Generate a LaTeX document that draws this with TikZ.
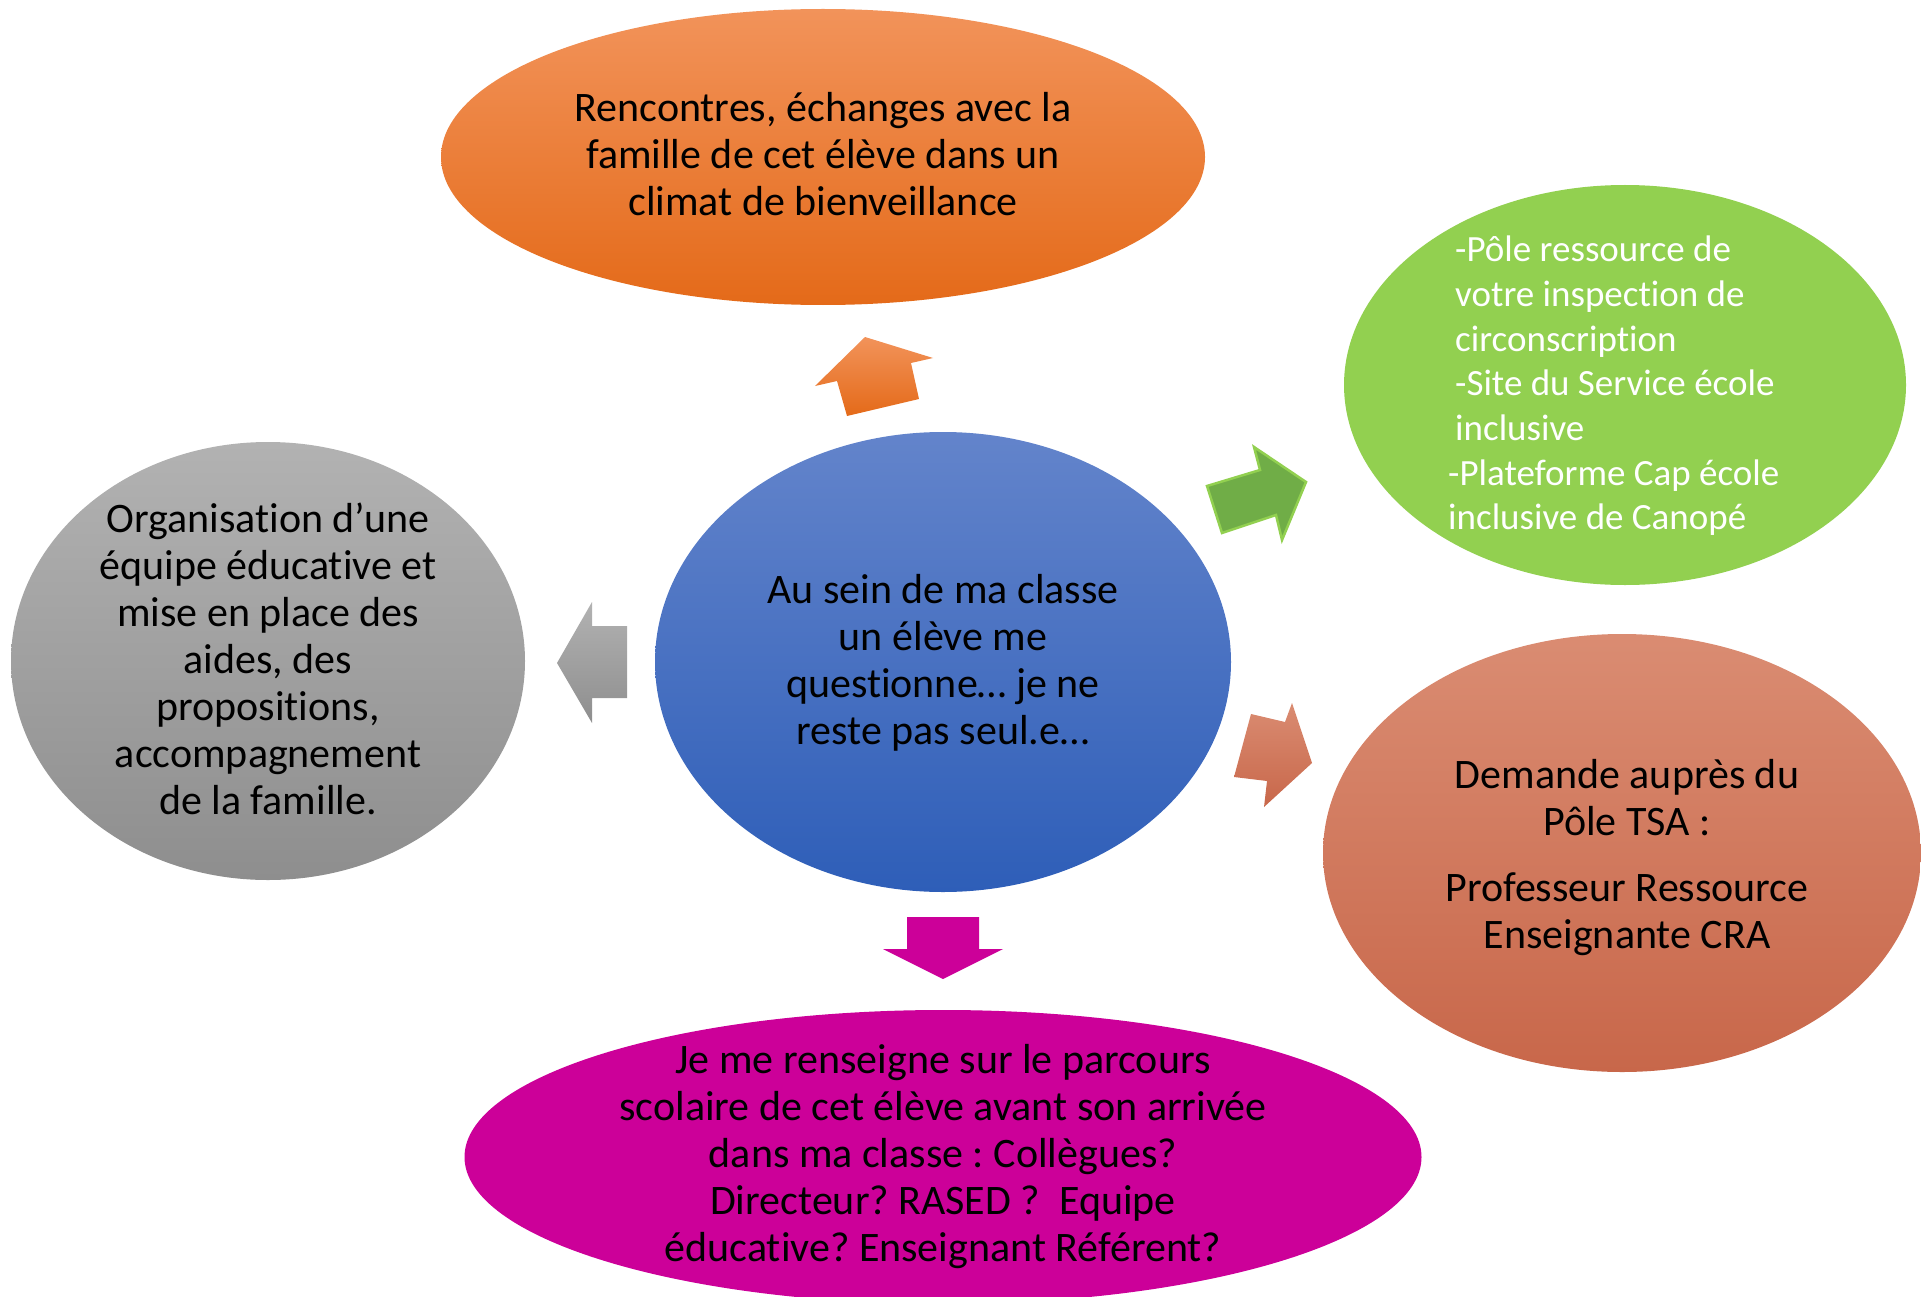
\documentclass[tikz,border=0pt]{standalone}
\usepackage{fontspec}
\setmainfont{Carlito}[Ligatures=NoCommon]
\usetikzlibrary{shapes.geometric}
\definecolor{orT}{HTML}{F2935A}
\definecolor{orB}{HTML}{E46A19}
\definecolor{blT}{HTML}{6384CB}
\definecolor{blB}{HTML}{2E5EB8}
\definecolor{grT}{HTML}{B2B2B2}
\definecolor{grB}{HTML}{8E8E8E}
\definecolor{gnF}{HTML}{92D050}
\definecolor{gnA}{HTML}{70AD47}
\definecolor{saT}{HTML}{DA8C72}
\definecolor{saB}{HTML}{C8674A}
\definecolor{mgF}{HTML}{CC0099}
\frenchspacing
\begin{document}
\begin{tikzpicture}[x=1pt,y=-1pt,
  bubble/.style={ellipse, draw=none, inner sep=0pt},
  txt/.style={font=\fontsize{42}{47}\selectfont, align=center, inner sep=0pt, text=black},
  gtxt/.style={font=\fontsize{37}{44.7}\selectfont, align=left, inner sep=0pt, text=white},
  blockarrow/.style={draw=none}
]
\useasboundingbox (0,0) rectangle (1921,1297);

% bubbles
\node[bubble, top color=orT, bottom color=orB, minimum width=764pt, minimum height=296pt] (famille) at (823,157) {};
\node[bubble, top color=blT, bottom color=blB, minimum width=576pt, minimum height=460pt] (centre) at (943,662) {};
\node[bubble, top color=grT, bottom color=grB, minimum width=514pt, minimum height=438pt] (equipe) at (268,661) {};
\node[bubble, fill=gnF, minimum width=562pt, minimum height=400pt] (ressources) at (1625,385) {};
\node[bubble, top color=saT, bottom color=saB, minimum width=598pt, minimum height=438pt] (tsa) at (1622,853) {};
\node[bubble, fill=mgF, minimum width=957pt, minimum height=294pt] (parcours) at (943,1157) {};

% texts
\node[txt] (famille-t) at ([yshift=3pt]famille.center) {Rencontres, échanges avec la\\famille de cet élève dans un\\climat de bienveillance};
\node[txt] (centre-t) at ([yshift=-1pt]centre.center) {Au sein de ma classe\\un élève me\\questionne… je ne\\reste pas seul.e…};
\node[txt] (equipe-t) at ([yshift=2pt]equipe.center) {Organisation d’une\\équipe éducative et\\mise en place des\\aides, des\\propositions,\\accompagnement\\de la famille.};
\node[txt] (parcours-t) at (parcours.center) {Je me renseigne sur le parcours\\scolaire de cet élève avant son arrivée\\dans ma classe : Collègues?\\Directeur? RASED ?\ \ Equipe\\éducative? Enseignant Référent?};
\node[txt] (tsa-t) at ([xshift=5pt,yshift=-5pt]tsa.center) {Demande auprès du\\Pôle TSA :\\[19pt]Professeur Ressource\\Enseignante CRA};
\node[gtxt, anchor=west] (ressources-t) at (1448,386) {\hspace*{7pt}-Pôle ressource de\\\hspace*{7pt}votre inspection de\\\hspace*{7pt}circonscription\\\hspace*{7pt}-Site du Service école\\\hspace*{7pt}inclusive\\-Plateforme Cap école\\inclusive de Canopé};

% block arrows
\shade[blockarrow, top color=orT, bottom color=orB] (865,337) -- (933,358) -- (911,363) -- (919,399) -- (847,416) -- (837,381) -- (815,386) -- cycle;
\filldraw[fill=gnA, draw=gnF, line width=2.5pt, line join=miter] (1207,486) -- (1260,470) -- (1254,447) -- (1306,482) -- (1282,540) -- (1276,515) -- (1222,533) -- cycle;
\shade[blockarrow, top color=saT, bottom color=saB] (1251,714) -- (1285,722) -- (1292,703) -- (1312,763) -- (1264,807) -- (1267,781) -- (1234,777) -- cycle;
\shade[blockarrow, top color=grT, bottom color=grB] (557,663) -- (592,602) -- (592,626) -- (627,626) -- (627,698) -- (592,698) -- (592,723) -- cycle;
\fill[mgF] (907,917) -- (979,917) -- (979,949) -- (1003,949) -- (943,979) -- (883,949) -- (907,949) -- cycle;
\end{tikzpicture}
\end{document}
